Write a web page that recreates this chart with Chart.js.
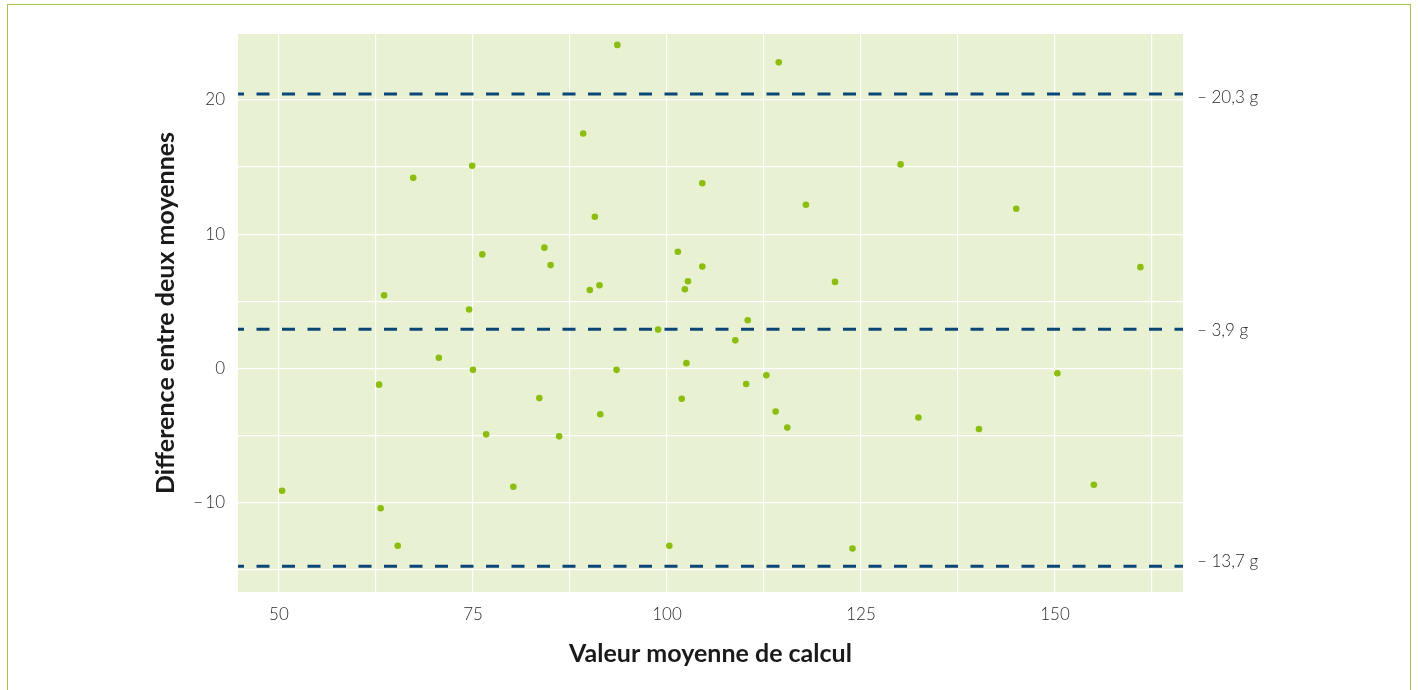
<!DOCTYPE html>
<html>
<head>
<meta charset="utf-8">
<script src="https://cdn.jsdelivr.net/npm/chart.js@4/dist/chart.umd.min.js"></script>
<style>
  html, body { margin: 0; padding: 0; background: #ffffff; width: 1419px; height: 690px; overflow: hidden; }
  #frame { position: absolute; left: 7px; top: 4px; width: 1404px; height: 700px; border: 1px solid #a6c447; box-sizing: border-box; }
  #c { position: absolute; left: 0; top: 0; }
</style>
</head>
<body>
<div id="frame"></div>
<canvas id="c" width="1419" height="690"></canvas>
<script>
// ---- data ----
const meanValues = [67.3, 74.9, 63.55, 74.5, 70.6, 75.0, 62.9, 50.4, 63.1, 65.3,
  93.6, 89.2, 104.55, 90.7, 76.2, 84.2, 85.0, 101.4, 104.55, 102.7,
  102.3, 90.05, 91.3, 98.85, 102.5, 93.5, 83.55, 101.9, 91.4, 76.7,
  86.1, 80.2, 100.3, 114.4, 117.9, 130.1, 121.65, 110.4, 108.8, 110.2,
  112.8, 114.0, 115.5, 132.4, 123.9, 145.0, 161.0, 150.3, 140.2, 155.0];
const diffValues = [14.2, 15.1, 5.45, 4.4, 0.8, -0.1, -1.2, -9.1, -10.4, -13.2,
  24.1, 17.5, 13.8, 11.3, 8.5, 9.0, 7.7, 8.7, 7.6, 6.5,
  5.9, 5.85, 6.2, 2.9, 0.4, -0.1, -2.2, -2.25, -3.4, -4.9,
  -5.05, -8.8, -13.2, 22.8, 12.2, 15.2, 6.45, 3.6, 2.1, -1.15,
  -0.5, -3.2, -4.4, -3.65, -13.4, 11.9, 7.55, -0.35, -4.5, -8.65];
const limitValues = [20.45, 2.93, -14.72];
const limitLabelValues = [20.2, 2.85, -14.35];
const limitLabels = ['\u2013 20,3 g', '\u2013 3,9 g', '\u2013 13,7 g'];
const xTickValues = [50, 62.5, 75, 87.5, 100, 112.5, 125, 137.5, 150, 162.5];
const xTickLabels = ['50', '', '75', '', '100', '', '125', '', '150', ''];
const yTickValues = [-15, -10, -5, 0, 5, 10, 15, 20];
const yTickLabels = ['', '\u2212\u200910', '', '0', '', '10', '', '20'];
const xTitle = 'Valeur moyenne de calcul';
const yTitle = 'Difference entre deux moyennes';
const xRange = [44.72, 166.49];
const yRange = [-16.64, 24.91];

// ---- build ----
const points = meanValues.map((x, i) => ({ x: x, y: diffValues[i] }));
const limitDatasets = limitValues.map(v => ({
  type: 'line',
  data: [{ x: xRange[0], y: v }, { x: xRange[1], y: v }],
  borderColor: '#0b4677',
  borderWidth: 3,
  borderDash: [13, 12.5],
  borderDashOffset: 7,
  pointRadius: 0,
  fill: false,
  showLine: true,
  order: 2
}));

const plotBg = {
  id: 'plotBg',
  beforeDraw(chart) {
    const a = chart.chartArea, ctx = chart.ctx;
    ctx.save();
    ctx.fillStyle = '#e8f1d2';
    ctx.fillRect(a.left, a.top, a.right - a.left, a.bottom - a.top);
    ctx.restore();
  }
};

const tickFont = { family: 'Lato, "Open Sans", sans-serif', size: 17, weight: '300' };
const titleFont = { family: 'Lato, "Open Sans", sans-serif', size: 25, weight: 'bold' };

new Chart(document.getElementById('c'), {
  type: 'scatter',
  data: {
    datasets: [
      {
        data: points,
        backgroundColor: '#8cbe10',
        borderWidth: 0,
        pointRadius: 3.3,
        pointHoverRadius: 3.3,
        order: 1
      },
      ...limitDatasets
    ]
  },
  plugins: [plotBg],
  options: {
    responsive: false,
    animation: false,
    events: [],
    layout: { padding: { left: 147, top: 34, right: 0, bottom: 17 } },
    plugins: { legend: { display: false }, tooltip: { enabled: false } },
    scales: {
      x: {
        type: 'linear',
        min: xRange[0], max: xRange[1],
        afterBuildTicks: s => { s.ticks = xTickValues.map(v => ({ value: v })); },
        afterFit: s => { s.height = 81; },
        grid: { color: '#ffffff', lineWidth: 1.2, drawTicks: false },
        border: { display: false },
        ticks: {
          autoSkip: false, maxRotation: 0, padding: 12,
          color: '#2a2a2a', font: tickFont,
          callback: (v, i) => xTickLabels[i]
        },
        title: { display: true, text: xTitle, color: '#1a1a1a', font: titleFont, padding: { top: 2, bottom: 4 } }
      },
      y: {
        type: 'linear',
        position: 'left',
        min: yRange[0], max: yRange[1],
        afterBuildTicks: s => { s.ticks = yTickValues.map(v => ({ value: v })); },
        afterFit: s => { s.width = 91; },
        grid: { color: '#ffffff', lineWidth: 1.2, drawTicks: false },
        border: { display: false },
        ticks: {
          autoSkip: false, padding: 13,
          color: '#2a2a2a', font: tickFont,
          callback: (v, i) => yTickLabels[i]
        },
        title: { display: true, text: yTitle, color: '#1a1a1a', font: titleFont, padding: { top: 4, bottom: 4 } }
      },
      y2: {
        type: 'linear',
        position: 'right',
        min: yRange[0], max: yRange[1],
        afterBuildTicks: s => { s.ticks = limitLabelValues.map(v => ({ value: v })); },
        afterFit: s => { s.width = 236; },
        grid: { display: false, drawTicks: false },
        border: { display: false },
        ticks: {
          autoSkip: false, padding: 14,
          color: '#2a2a2a', font: tickFont,
          callback: (v, i) => limitLabels[i]
        }
      }
    }
  }
});
</script>
</body>
</html>
